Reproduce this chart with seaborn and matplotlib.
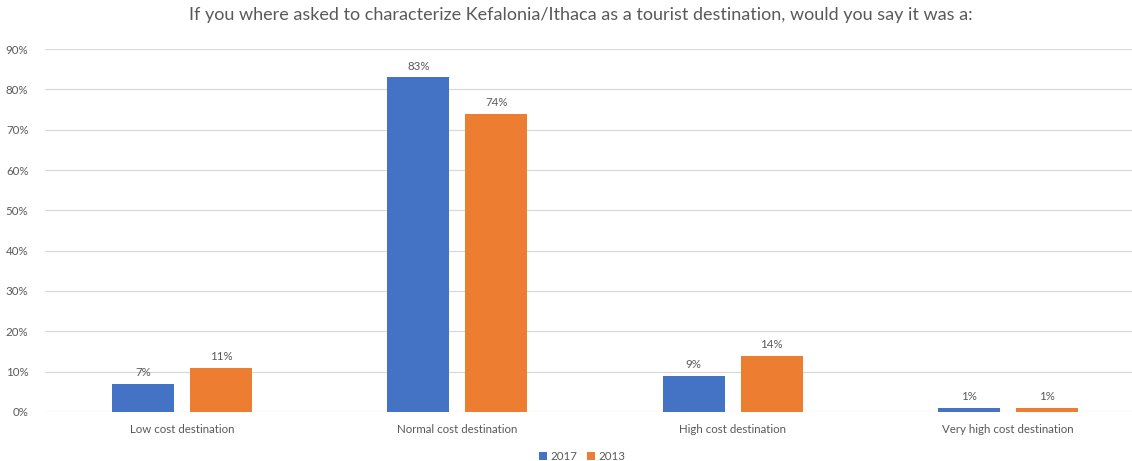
import matplotlib
matplotlib.use("Agg")
import matplotlib.pyplot as plt
from matplotlib.ticker import FuncFormatter, MultipleLocator
import seaborn as sns
import pandas as pd

categories = ["Low cost destination", "Normal cost destination",
              "High cost destination", "Very high cost destination"]
years = ["2017", "2013"]
values_2017 = [7, 83, 9, 1]
values_2013 = [11, 74, 14, 1]

df = pd.DataFrame({
    "category": categories * 2,
    "year": [years[0]] * 4 + [years[1]] * 4,
    "value": values_2017 + values_2013,
})

sns.set_theme(style="white")
plt.rcParams["font.family"] = ["Lato", "DejaVu Sans"]
text_color = "#595959"

fig = plt.figure(figsize=(11.32, 4.61), dpi=100)
ax = fig.add_axes([0.0398, 0.1063, 0.9602, 0.7874])

sns.barplot(data=df, x="category", y="value", hue="year",
            palette=["#4472C4", "#ED7D31"], saturation=1,
            width=0.566, gap=0.205, linewidth=0,
            order=categories, hue_order=years, ax=ax, legend=True)

for cont in ax.containers:
    ax.bar_label(cont, labels=[f"{v:.0f}%" for v in cont.datavalues],
                 padding=4, fontsize=8.3, color=text_color)

ax.set_ylim(0, 90)
ax.set_xlim(-0.497, 3.45)
ax.yaxis.set_major_locator(MultipleLocator(10))
ax.yaxis.set_major_formatter(FuncFormatter(lambda v, p: f"{v:.0f}%"))
ax.grid(axis="y", color="#D9D9D9", linewidth=0.9)
ax.set_axisbelow(True)
for s in ax.spines.values():
    s.set_visible(False)
ax.set_xlabel("")
ax.set_ylabel("")
ax.tick_params(axis="both", length=0, labelsize=8.3, colors=text_color)
ax.tick_params(axis="y", pad=12)
ax.tick_params(axis="x", pad=9)

fig.suptitle("If you where asked to characterize Kefalonia/Ithaca as a tourist destination, would you say it was a:",
             x=0.513, y=0.985, fontsize=13, color=text_color)

leg = ax.legend(loc="center", bbox_to_anchor=(0.494, -0.122), ncol=2,
                frameon=False, fontsize=8.3, handlelength=0.7, handleheight=0.7,
                handletextpad=0.3, columnspacing=0.8, labelcolor=text_color)

fig.savefig("out.png", dpi=100, facecolor="white")
